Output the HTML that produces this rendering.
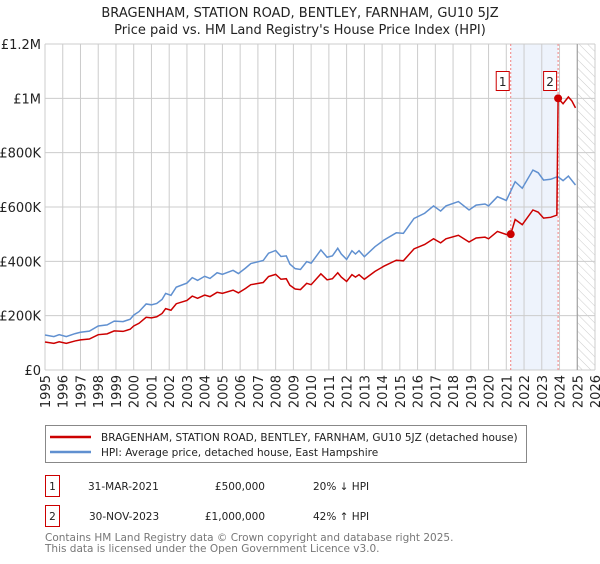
<!DOCTYPE html>
<html><head><meta charset="utf-8"><style>
body{margin:0;background:#fff;width:600px;height:560px;overflow:hidden;font-family:"DejaVu Sans","Liberation Sans",sans-serif;}
svg text{font-family:"DejaVu Sans","Liberation Sans",sans-serif;}
</style></head><body>
<svg id="chart" width="600" height="560" xmlns="http://www.w3.org/2000/svg">
<defs><pattern id="hatch" width="6" height="6" patternUnits="userSpaceOnUse" patternTransform="rotate(-45)"><line x1="0" y1="0" x2="0" y2="6" stroke="#ccc" stroke-width="1"/></pattern></defs>
<text x="300" y="17" text-anchor="middle" font-size="13" fill="#222">BRAGENHAM, STATION ROAD, BENTLEY, FARNHAM, GU10 5JZ</text>
<text x="300" y="34" text-anchor="middle" font-size="13" fill="#222">Price paid vs. HM Land Registry's House Price Index (HPI)</text>
<g id="grid"></g><g id="marks"></g><g id="axes"></g>
<g>
<rect x="45.5" y="425.5" width="481" height="37" fill="#fff" stroke="#888"/>
<line x1="50" y1="437" x2="91" y2="437" stroke="#cc0000" stroke-width="2.5"/>
<text x="101" y="441" font-size="10.5" fill="#222">BRAGENHAM, STATION ROAD, BENTLEY, FARNHAM, GU10 5JZ (detached house)</text>
<line x1="50" y1="452" x2="91" y2="452" stroke="#6090d0" stroke-width="2.5"/>
<text x="101" y="456" font-size="10.5" fill="#222">HPI: Average price, detached house, East Hampshire</text>
</g>
<g font-size="10.5" fill="#222">
<rect x="45.5" y="475.5" width="14" height="21" fill="#fff" stroke="#cc0000"/>
<text x="52.5" y="490" text-anchor="middle">1</text>
<text x="88" y="490">31-MAR-2021</text>
<text x="265" y="490" text-anchor="end">£500,000</text>
<text x="313" y="490">20% ↓ HPI</text>
<rect x="45.5" y="505.5" width="14" height="21" fill="#fff" stroke="#cc0000"/>
<text x="52.5" y="520" text-anchor="middle">2</text>
<text x="89" y="520">30-NOV-2023</text>
<text x="265" y="520" text-anchor="end">£1,000,000</text>
<text x="313" y="520">42% ↑ HPI</text>
</g>
<text x="45" y="541" font-size="10.5" fill="#777">Contains HM Land Registry data © Crown copyright and database right 2025.</text>
<text x="45" y="552" font-size="10.5" fill="#777">This data is licensed under the Open Government Licence v3.0.</text>
</svg>
<script>
const hpiDates=[1995.0,1995.5,1995.8,1996.2,1996.7,1997.0,1997.5,1998.0,1998.5,1998.9,1999.4,1999.8,2000.0,2000.3,2000.7,2001.0,2001.3,2001.6,2001.8,2002.1,2002.4,2003.0,2003.3,2003.6,2004.0,2004.3,2004.7,2005.0,2005.6,2005.9,2006.3,2006.6,2007.3,2007.6,2008.0,2008.3,2008.6,2008.8,2009.1,2009.4,2009.75,2010.0,2010.55,2010.9,2011.2,2011.5,2011.7,2012.0,2012.3,2012.5,2012.7,2013.0,2013.6,2014.1,2014.8,2015.2,2015.8,2016.4,2016.9,2017.3,2017.6,2018.3,2018.9,2019.3,2019.8,2020.0,2020.5,2021.0,2021.5,2021.9,2022.5,2022.8,2023.1,2023.5,2023.9,2024.2,2024.5,2024.9];
const hpiValues=[129,123,130,123,134,139,143,162,166,180,178,187,202,215,243,240,245,260,282,275,305,320,340,330,345,337,358,352,367,355,375,392,403,430,440,418,420,390,373,370,399,393,442,415,420,448,427,407,439,427,439,417,454,478,505,503,558,577,604,585,604,620,589,607,611,604,638,624,693,669,736,726,699,702,712,697,714,681];
const priceDates=[1995.0,1995.5,1995.8,1996.2,1996.7,1997.0,1997.5,1998.0,1998.5,1998.9,1999.4,1999.8,2000.0,2000.3,2000.7,2001.0,2001.3,2001.6,2001.8,2002.1,2002.4,2003.0,2003.3,2003.6,2004.0,2004.3,2004.7,2005.0,2005.6,2005.9,2006.3,2006.6,2007.3,2007.6,2008.0,2008.3,2008.6,2008.8,2009.1,2009.4,2009.75,2010.0,2010.55,2010.9,2011.2,2011.5,2011.7,2012.0,2012.3,2012.5,2012.7,2013.0,2013.6,2014.1,2014.8,2015.2,2015.8,2016.4,2016.9,2017.3,2017.6,2018.3,2018.9,2019.3,2019.8,2020.0,2020.5,2021.0,2021.25,2021.5,2021.9,2022.5,2022.8,2023.1,2023.5,2023.85,2023.92,2024.2,2024.5,2024.7,2024.9];
const priceValues=[103,98,104,98,107,111,114,130,133,144,142,150,162,172,194,192,196,208,226,220,244,256,272,264,276,270,286,282,294,284,300,314,322,344,352,334,336,312,298,296,319,314,354,332,336,358,342,326,351,342,351,334,363,382,404,402,446,462,483,468,483,496,471,486,489,483,510,499,500,554,535,589,581,559,562,570,1000,980,1005,990,965];
const saleDates=[2021.25,2023.92];
const saleValues=[500,1000];
const saleLabels=["1","2"];
const yTicks=[0,200,400,600,800,1000,1200];
const yTickLabels=["£0","£200K","£400K","£600K","£800K","£1M","£1.2M"];
const xTicks=[1995,1996,1997,1998,1999,2000,2001,2002,2003,2004,2005,2006,2007,2008,2009,2010,2011,2012,2013,2014,2015,2016,2017,2018,2019,2020,2021,2022,2023,2024,2025,2026];

const NS="http://www.w3.org/2000/svg";
const L=45,R=595,T=44,B=370;
const x=d=>L+(d-1995)/(2026-1995)*(R-L);
const y=v=>B-v/1200*(B-T);
function mk(parent,tag,attrs){const e=document.createElementNS(NS,tag);for(const k in attrs)e.setAttribute(k,attrs[k]);parent.appendChild(e);return e;}
const grid=document.getElementById('grid'),marks=document.getElementById('marks'),axes=document.getElementById('axes');
let sh=mk(grid,'rect',{x:x(saleDates[0]),y:T,width:x(saleDates[1])-x(saleDates[0]),height:B-T,fill:'#eef3fc'});


let ht=mk(grid,'rect',{x:x(2025),y:T,width:R-x(2025),height:B-T,fill:'url(#hatch)'});


xTicks.forEach(t=>{
  let g=mk(grid,'line',{x1:x(t),x2:x(t),y1:T,y2:B,stroke:'#ccc','stroke-width':1});
  
  
  let tx=mk(axes,'text',{x:0,y:0,'font-size':13,fill:'#222','text-anchor':'end',transform:`translate(${x(t)+5},${B+5}) rotate(-90)`});
  tx.textContent=t;
  
  
});
yTicks.forEach((t,i)=>{
  let g=mk(grid,'line',{x1:L,x2:R,y1:y(t),y2:y(t),stroke:'#ccc','stroke-width':1});
  
  
  let tx=mk(axes,'text',{x:L-4,y:y(t)+5,'font-size':13,fill:'#222','text-anchor':'end'});
  tx.textContent=yTickLabels[i];
  
  
});
let nl=mk(grid,'line',{x1:x(2025),x2:x(2025),y1:T,y2:B,stroke:'#999','stroke-width':1});


saleDates.forEach((d,i)=>{
  let v=mk(marks,'line',{x1:x(d),x2:x(d),y1:T,y2:B,stroke:'#f08080','stroke-width':1,'stroke-dasharray':'2,2'});
  
  
});
let hp=mk(marks,'polyline',{points:hpiDates.map((d,i)=>x(d)+','+y(hpiValues[i])).join(' '),fill:'none',stroke:'#6090d0','stroke-width':1.5});


let pp=mk(marks,'polyline',{points:priceDates.map((d,i)=>x(d)+','+y(priceValues[i])).join(' '),fill:'none',stroke:'#cc0000','stroke-width':1.5});


saleDates.forEach((d,i)=>{
  let c=mk(marks,'circle',{cx:x(d),cy:y(saleValues[i]),r:4,fill:'#cc0000'});
  
  
  let bx=mk(marks,'rect',{x:x(d)-14.5,y:71.5,width:13,height:19,fill:'#fff',stroke:'#cc0000'});
  
  
  let t=mk(marks,'text',{x:x(d)-8,y:86,'font-size':12,fill:'#222','text-anchor':'middle'});
  t.textContent=saleLabels[i];
  
  
});
</script>
</body></html>
